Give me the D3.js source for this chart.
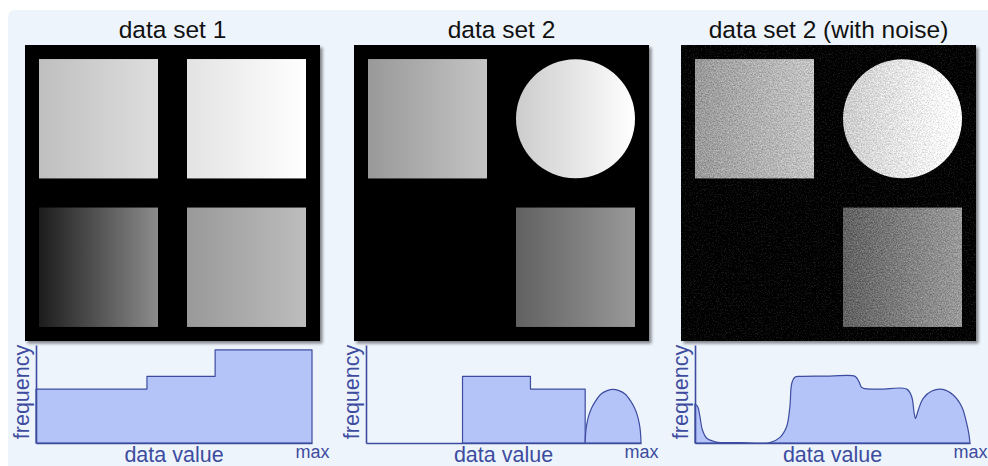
<!DOCTYPE html>
<html>
<head>
<meta charset="utf-8">
<script src="https://cdn.jsdelivr.net/npm/d3@7"></script>
<style>
  html, body { margin: 0; padding: 0; background: #ffffff; }
  svg { display: block; }
  text { font-family: "Liberation Sans", Arial, Helvetica, sans-serif; }
</style>
</head>
<body>
<svg id="chart" width="988" height="466"></svg>
<script>
// ---- Panel titles ----
const titles = ["data set 1", "data set 2", "data set 2 (with noise)"];

// ---- Image tiles: grid cell, shape, and the data value ramp (left -> right), 0 = black, 1 = max ----
const set1Tiles = [
  { col: 0, row: 0, shape: "square", from: 0.75, to: 0.87 },
  { col: 1, row: 0, shape: "square", from: 0.89, to: 1.00 },
  { col: 0, row: 1, shape: "square", from: 0.11, to: 0.55 },
  { col: 1, row: 1, shape: "square", from: 0.60, to: 0.74 }
];
const set2Tiles = [
  { col: 0, row: 0, shape: "square", from: 0.60, to: 0.77 },
  { col: 1, row: 0, shape: "circle", from: 0.80, to: 1.00 },
  { col: 1, row: 1, shape: "square", from: 0.38, to: 0.60 }
];

// ---- Histograms: x = data value (fraction of max), y = frequency (% of axis height) ----
const set1Edges = [0, 0.402, 0.649, 1];
const set1Freq  = [55, 68, 95];

const set2Edges = [0.351, 0.598, 0.797];
const set2Freq  = [68, 55];
const set2Lobe  = [
  [0.797, 0], [0.799, 11], [0.803, 19.5], [0.810, 28], [0.820, 35.5], [0.835, 43],
  [0.855, 50], [0.877, 53.5], [0.898, 54.8], [0.920, 53.5], [0.942, 50], [0.962, 43],
  [0.977, 35.5], [0.987, 28], [0.994, 19.5], [0.998, 11], [1.0, 0]
];

const set2NoisyCurve = [
  [0, 39.8], [0.010, 37], [0.018, 26.8], [0.027, 13.3], [0.043, 4.8], [0.073, 1.3],
  [0.164, 0.4], [0.273, 0.5], [0.309, 5.8], [0.333, 16.6], [0.345, 37], [0.352, 61],
  [0.364, 67.3], [0.382, 68], [0.491, 68.2], [0.582, 68], [0.596, 62.6], [0.606, 56.8],
  [0.618, 55.5], [0.673, 55], [0.770, 55], [0.788, 47.2], [0.797, 30.3], [0.802, 25.2],
  [0.812, 33.7], [0.830, 45.6], [0.861, 53.1], [0.901, 54.8], [0.939, 49], [0.970, 37],
  [0.988, 20.1], [0.996, 9], [1.0, 0]
];

// ---- Axis texts ----
const xTickValues = [1];
const xTickLabels = ["max"];
const xAxisTitle = "data value";
const yAxisTitle = "frequency";

// ---------------------------------------------------------------
const BLUE = "#3d4c9f";
const FILL = "#b4c4f8";

const svg = d3.select("#chart");
const defs = svg.append("defs");

// light panel background
svg.append("rect")
  .attr("x", 8).attr("y", 10).attr("width", 990).attr("height", 470)
  .attr("rx", 7).attr("fill", "#edf4fc");

// soft shadow for the image frames
defs.append("filter").attr("id", "shadowBlur")
  .attr("x", "-5%").attr("y", "-5%").attr("width", "110%").attr("height", "110%")
  .append("feGaussianBlur").attr("stdDeviation", 1.6);

// grain filter for the noisy image: adds zero-mean grey noise to the source
const noise = defs.append("filter").attr("id", "grain")
  .attr("x", 0).attr("y", 0).attr("width", 1).attr("height", 1)
  .attr("color-interpolation-filters", "sRGB");
noise.append("feTurbulence").attr("type", "fractalNoise")
  .attr("baseFrequency", 0.75).attr("numOctaves", 2).attr("seed", 7).attr("result", "turb");
noise.append("feColorMatrix").attr("in", "turb").attr("type", "matrix")
  .attr("values", "1.8 0 0 0 -0.4  1.8 0 0 0 -0.4  1.8 0 0 0 -0.4  0 0 0 0 1").attr("result", "grey");
noise.append("feComposite").attr("in", "SourceGraphic").attr("in2", "grey")
  .attr("operator", "arithmetic").attr("k1", 0).attr("k2", 1).attr("k3", 0.24).attr("k4", -0.12)
  .attr("result", "mixed");
noise.append("feComposite").attr("in", "mixed").attr("in2", "SourceGraphic").attr("operator", "in");

const grey = d3.scaleLinear().domain([0, 1]).range(["#000000", "#ffffff"]);

const panels = [
  { title: titles[0], frameX: 25,  axisX: 36,  axisW: 276, tiles: set1Tiles, noisy: false },
  { title: titles[1], frameX: 354, axisX: 366, axisW: 275, tiles: set2Tiles, noisy: false },
  { title: titles[2], frameX: 681, axisX: 695, axisW: 275, tiles: set2Tiles, noisy: true }
];

const FRAME_Y = 45, FRAME_W = 295, FRAME_H = 296;
const AXIS_TOP = 345, AXIS_BASE = 443;

panels.forEach((p, pi) => {
  const g = svg.append("g");

  // title
  g.append("text")
    .attr("x", p.frameX + FRAME_W / 2).attr("y", 37.5)
    .attr("text-anchor", "middle").attr("font-size", 24.5).attr("fill", "#111")
    .text(p.title);

  // shadow + frame
  g.append("rect")
    .attr("x", p.frameX + 2.5).attr("y", FRAME_Y + 2.5)
    .attr("width", FRAME_W).attr("height", FRAME_H)
    .attr("fill", "#000").attr("opacity", 0.45).attr("filter", "url(#shadowBlur)");

  const img = g.append("g");
  if (p.noisy) img.attr("filter", "url(#grain)");

  img.append("rect")
    .attr("x", p.frameX).attr("y", FRAME_Y)
    .attr("width", FRAME_W).attr("height", FRAME_H).attr("fill", "#000");

  const col = d3.scaleBand().domain([0, 1]).range([p.frameX, p.frameX + FRAME_W])
    .paddingInner(29 / 148).paddingOuter(14 / 148);
  const row = d3.scaleBand().domain([0, 1]).range([FRAME_Y, FRAME_Y + FRAME_H])
    .paddingInner(29 / 148).paddingOuter(14 / 148);

  p.tiles.forEach((t, ti) => {
    const gid = `ramp-${pi}-${ti}`;
    const lg = defs.append("linearGradient").attr("id", gid)
      .attr("x1", 0).attr("y1", 0).attr("x2", 1).attr("y2", 0);
    lg.append("stop").attr("offset", 0).attr("stop-color", grey(t.from));
    lg.append("stop").attr("offset", 1).attr("stop-color", grey(t.to));
    const bw = col.bandwidth(), bh = row.bandwidth();
    if (t.shape === "circle") {
      img.append("circle")
        .attr("cx", col(t.col) + bw / 2).attr("cy", row(t.row) + bh / 2)
        .attr("r", Math.min(bw, bh) / 2).attr("fill", `url(#${gid})`);
    } else {
      img.append("rect")
        .attr("x", col(t.col)).attr("y", row(t.row))
        .attr("width", bw).attr("height", bh).attr("fill", `url(#${gid})`);
    }
  });

  // histogram
  const x = d3.scaleLinear().domain([0, 1]).range([p.axisX, p.axisX + p.axisW]);
  const y = d3.scaleLinear().domain([0, 100]).range([AXIS_BASE, AXIS_TOP]);

  const stepArea = d3.area().curve(d3.curveStepAfter)
    .x(d => x(d[0])).y0(y(0)).y1(d => y(d[1]));
  const smoothArea = d3.area().curve(d3.curveCatmullRom.alpha(0.5))
    .x(d => x(d[0])).y0(y(0)).y1(d => y(d[1]));

  const hg = g.append("g");
  const drawShape = (gen, data) => hg.append("path")
    .attr("d", gen(data)).attr("fill", FILL).attr("stroke", BLUE)
    .attr("stroke-width", 1.2).attr("stroke-linejoin", "round");

  const stepPoints = (edges, freq) =>
    edges.map((e, i) => [e, freq[Math.min(i, freq.length - 1)]]);

  if (pi === 0) {
    drawShape(stepArea, stepPoints(set1Edges, set1Freq));
  } else if (pi === 1) {
    drawShape(stepArea, stepPoints(set2Edges, set2Freq));
    drawShape(smoothArea, set2Lobe);
  } else {
    drawShape(smoothArea, set2NoisyCurve);
  }

  // axes
  const yAxis = g.append("g").attr("transform", `translate(${p.axisX},0)`)
    .call(d3.axisLeft(y).tickValues([]).tickSizeOuter(0));
  const xAxis = g.append("g").attr("transform", `translate(0,${AXIS_BASE})`)
    .call(d3.axisBottom(x).tickValues(xTickValues)
      .tickFormat((d, i) => xTickLabels[i]).tickSize(0).tickPadding(2).tickSizeOuter(0));
  [yAxis, xAxis].forEach(a => {
    a.select(".domain").attr("stroke", BLUE).attr("stroke-width", 1.6);
  });
  xAxis.selectAll(".tick text")
    .attr("fill", BLUE).attr("font-size", 18)
    .attr("font-family", "'Liberation Sans', Arial, sans-serif");

  // axis titles
  g.append("text")
    .attr("x", p.axisX + p.axisW / 2).attr("y", 462)
    .attr("text-anchor", "middle").attr("font-size", 21.5).attr("fill", BLUE)
    .text(xAxisTitle);
  g.append("text")
    .attr("transform", `translate(${p.axisX - 7},392) rotate(-90)`)
    .attr("text-anchor", "middle").attr("font-size", 21.5).attr("fill", BLUE)
    .text(yAxisTitle);
});
</script>
</body>
</html>
